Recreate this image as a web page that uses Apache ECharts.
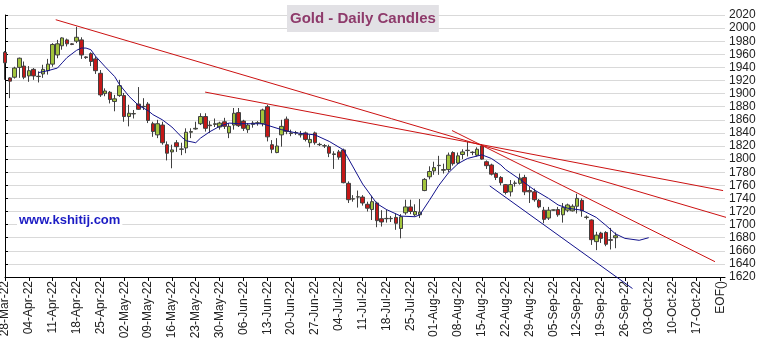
<!DOCTYPE html>
<html>
<head>
<meta charset="utf-8">
<script src="https://cdn.jsdelivr.net/npm/echarts@6/dist/echarts.min.js"></script>
<style>
html,body{margin:0;padding:0;background:#fff;}
#chart{width:763px;height:344px;}
</style>
</head>
<body>
<div id="chart"></div>
<script>
// Weekly tick labels (Mondays), last one is the end marker
const weekLabels = ['28-Mar-22','04-Apr-22','11-Apr-22','18-Apr-22','25-Apr-22','02-May-22','09-May-22','16-May-22','23-May-22','30-May-22','06-Jun-22','13-Jun-22','20-Jun-22','27-Jun-22','04-Jul-22','11-Jul-22','18-Jul-22','25-Jul-22','01-Aug-22','08-Aug-22','15-Aug-22','22-Aug-22','29-Aug-22','05-Sep-22','12-Sep-22','19-Sep-22','26-Sep-22','03-Oct-22','10-Oct-22','17-Oct-22','EOF()'];

// Daily candles (weekdays from 28-Mar-22)
const opens  = [1963,1924,1925,1940,1942,1927,1937,1926,1930,1935,1945,1959,1973,1982,1976,1980,1982,1956,1961,1953,1931,1900,1902,1888,1897,1897,1865,1869,1884,1880,1884,1854,1837,1852,1822,1811,1825,1815,1817,1841,1846,1854,1865,1852,1853,1849,1857,1840,1852,1871,1858,1845,1853,1855,1854,1880,1822,1810,1837,1861,1840,1840,1837,1840,1825,1840,1822,1820,1819,1807,1811,1814,1763,1739,1742,1742,1731,1723,1733,1709,1709,1709,1711,1694,1718,1727,1715,1715,1752,1773,1782,1790,1783,1784,1810,1794,1807,1813,1810,1806,1820,1796,1791,1778,1772,1761,1750,1763,1763,1772,1752,1750,1737,1722,1710,1722,1723,1715,1722,1721,1728,1737,1711,1707,1674,1687,1688,1677,1680];
const closes = [1947,1919,1939,1954,1925,1935,1927,1926.5,1937,1945,1975,1976,1985,1976,1975,1986,1959,1955,1949,1935,1898,1904,1891,1892,1912,1865,1870,1869.5,1876,1880.5,1859,1842,1854,1825,1809,1814,1819,1815.5,1841,1842,1847,1865,1847,1851,1854,1855,1850,1850,1870,1851,1847,1852,1855,1855.5,1875,1834,1815,1820,1850,1842,1839,1840.5,1837.5,1830,1830,1825,1822.5,1820.5,1809,1808,1803,1764,1738,1739.5,1742.5,1733,1725,1735,1706,1704,1709.5,1709.5,1702,1712,1727,1720,1720,1719,1769,1781,1787,1790.5,1784,1806,1793,1805,1811,1813.5,1810.5,1815,1800,1790,1777,1772,1764,1749,1761,1763.5,1771,1750,1750,1738,1727,1708,1722,1722.5,1715,1726,1730,1728,1740,1721,1711.5,1677,1684,1679,1670,1676,1683];
const lows   = [1921,1893,1923,1924,1922,1918,1921,1917,1924,1929,1941,1954,1967,1972,1974,1977,1953,1953,1942,1930,1895,1896,1885,1873,1895,1857,1850,1862,1875,1875,1855,1834,1832,1822,1798,1786,1811,1806,1809,1832,1845,1852,1842,1840,1849,1845,1846,1832,1845,1849,1843,1840,1848,1851,1850,1827,1809,1809,1819,1838,1835,1837,1833,1827,1818,1822,1820,1817,1803,1785,1799,1763,1733,1735,1726,1729,1720,1707,1696,1697,1703,1704,1692,1679,1715,1716,1713,1710,1751,1769,1776,1776,1778,1780,1790,1792,1800,1804,1806,1804,1799,1785,1775,1768,1760,1746,1743,1758,1761,1745,1733,1735,1725,1702,1707,1721,1712,1703,1719,1720,1717,1712,1708,1669,1661,1672,1667,1662,1664];
const highs  = [1965,1925,1941,1955,1949,1942,1939,1934,1944,1953,1977,1982,1986,1984,1977,2002,1986,1957,1963,1957,1936,1908,1904,1898,1921,1901,1883,1875,1910,1893,1887,1857,1860,1857,1827,1822,1829,1825,1847,1847,1857,1870,1870,1858,1862,1857,1863,1855,1878,1878,1860,1855,1858,1858,1877,1883,1829,1832,1860,1865,1845,1843,1843,1842,1837,1842,1825,1823,1822,1812,1814,1816,1766,1745,1752,1745,1735,1744,1735,1722,1723,1713,1717,1716,1738,1738,1731,1739,1771,1789,1796,1805,1793,1810,1812,1810,1815,1827,1812,1818,1823,1798,1793,1780,1774,1762,1768,1767,1778,1776,1758,1755,1739,1727,1727,1723,1727,1733,1732,1731,1747,1740,1714,1708,1689,1689,1690,1695,1688];

// Blue average line: [day index, value]
const maLine = [[7,1932],[9,1935],[11,1939],[12,1947],[13,1955],[15,1966],[16,1969.5],[17,1969.5],[18,1967],[19,1957],[21,1941],[23,1926],[24,1914],[26,1896],[28,1882],[30,1874],[31,1868],[33,1860],[35,1849],[37,1834],[38,1828],[40,1825],[41,1832],[43,1842],[45,1850],[47,1855],[49,1854],[53,1854],[54,1854],[58,1845],[61,1840],[65,1837],[68,1827],[71,1814],[73,1788],[75,1762],[78,1732],[80,1723],[83,1713],[86,1712],[87,1715],[89,1737],[91,1760],[93,1779],[95,1793],[97,1801],[100,1806.5],[102,1801],[104,1791],[105,1784],[108,1769],[111,1753],[114,1740],[116,1730],[118,1725],[121,1722],[124,1711],[126,1699],[128,1686],[130,1679],[133,1676],[135,1680]];

// Trend lines: [day index, value] end points
const trendA = [[10.64,2012.8],[151.7,1710.0]];
const trendB = [[41.97,1902.3],[150.6,1751.9]];
const trendC = [[93.75,1843.6],[148.9,1643.4]];
const channelLow = [[101.66,1759.1],[131.6,1602.4]];

const yMin = 1620, yMax = 2020, yStep = 20;

const nCat = weekLabels.length * 5 - 4 + 1; // through EOF + one extra slot
const categories = [];
for (let i = 0; i < nCat; i++) categories.push('d' + i);
const candles = opens.map((o, i) => [o, closes[i], lows[i], highs[i]]);

const font = 'Liberation Sans, Arial, sans-serif';
const chart = echarts.init(document.getElementById('chart'));
const trendStyle = (c) => ({type: 'line', xAxisIndex: 1, yAxisIndex: 0, showSymbol: false, symbol: 'none', clip: false, silent: true, lineStyle: {color: c, width: 1}, z: 4});

chart.setOption({
  animation: false,
  backgroundColor: '#ffffff',
  title: [
    {text: 'Gold - Daily Candles', left: 287, top: 5, padding: [6, 3, 6, 3], backgroundColor: '#e2e1e5',
     textStyle: {color: '#8e3a6b', fontSize: 15, fontWeight: 'bold', fontFamily: font}},
    {text: 'www.kshitij.com', left: 17, top: 212, padding: [2, 2, 2, 2], backgroundColor: '#ffffff',
     textStyle: {color: '#1c1cc4', fontSize: 13, fontWeight: 'bold', fontFamily: font}}
  ],
  grid: {left: 5, right: 38, top: 15, bottom: 67, containLabel: false, outerBoundsMode: 'none'},
  xAxis: [
    {type: 'category', data: categories, boundaryGap: false,
     axisLine: {lineStyle: {color: '#000', width: 1}},
     axisTick: {length: 4, interval: (i) => i % 5 === 0 && i <= 150, lineStyle: {color: '#000'}},
     axisLabel: {rotate: 90, margin: 4, interval: (i) => i % 5 === 0 && i <= 150,
       formatter: (v, i) => (i % 5 === 0 && weekLabels[i / 5]) ? weekLabels[i / 5] : '',
       color: '#222', fontSize: 12, fontFamily: font},
     splitLine: {show: false}},
    {type: 'value', min: 0, max: nCat - 1, show: false}
  ],
  yAxis: {type: 'value', position: 'right', min: yMin, max: yMax, interval: yStep, scale: true,
    axisLine: {show: true, lineStyle: {color: '#000', width: 1}},
    axisTick: {show: true, length: 3, lineStyle: {color: '#000'}},
    axisLabel: {margin: 4, color: '#222', fontSize: 12, fontFamily: font, formatter: (v) => String(v)},
    splitLine: {show: true, lineStyle: {color: '#d9d9d9', width: 1}}},
  series: [
    {type: 'candlestick', data: candles, barWidth: 4, z: 3,
     itemStyle: {color: '#a2c43c', color0: '#c41818', borderColor: '#404040', borderColor0: '#404040', borderWidth: 1}},
    {type: 'line', data: maLine, showSymbol: false, symbol: 'none', z: 5,
     lineStyle: {color: '#12128c', width: 1}},
    Object.assign(trendStyle('#cc1111'), {data: trendA}),
    Object.assign(trendStyle('#cc1111'), {data: trendB}),
    Object.assign(trendStyle('#cc1111'), {data: trendC}),
    Object.assign(trendStyle('#12128c'), {data: channelLow})
  ]
});
</script>
</body>
</html>
